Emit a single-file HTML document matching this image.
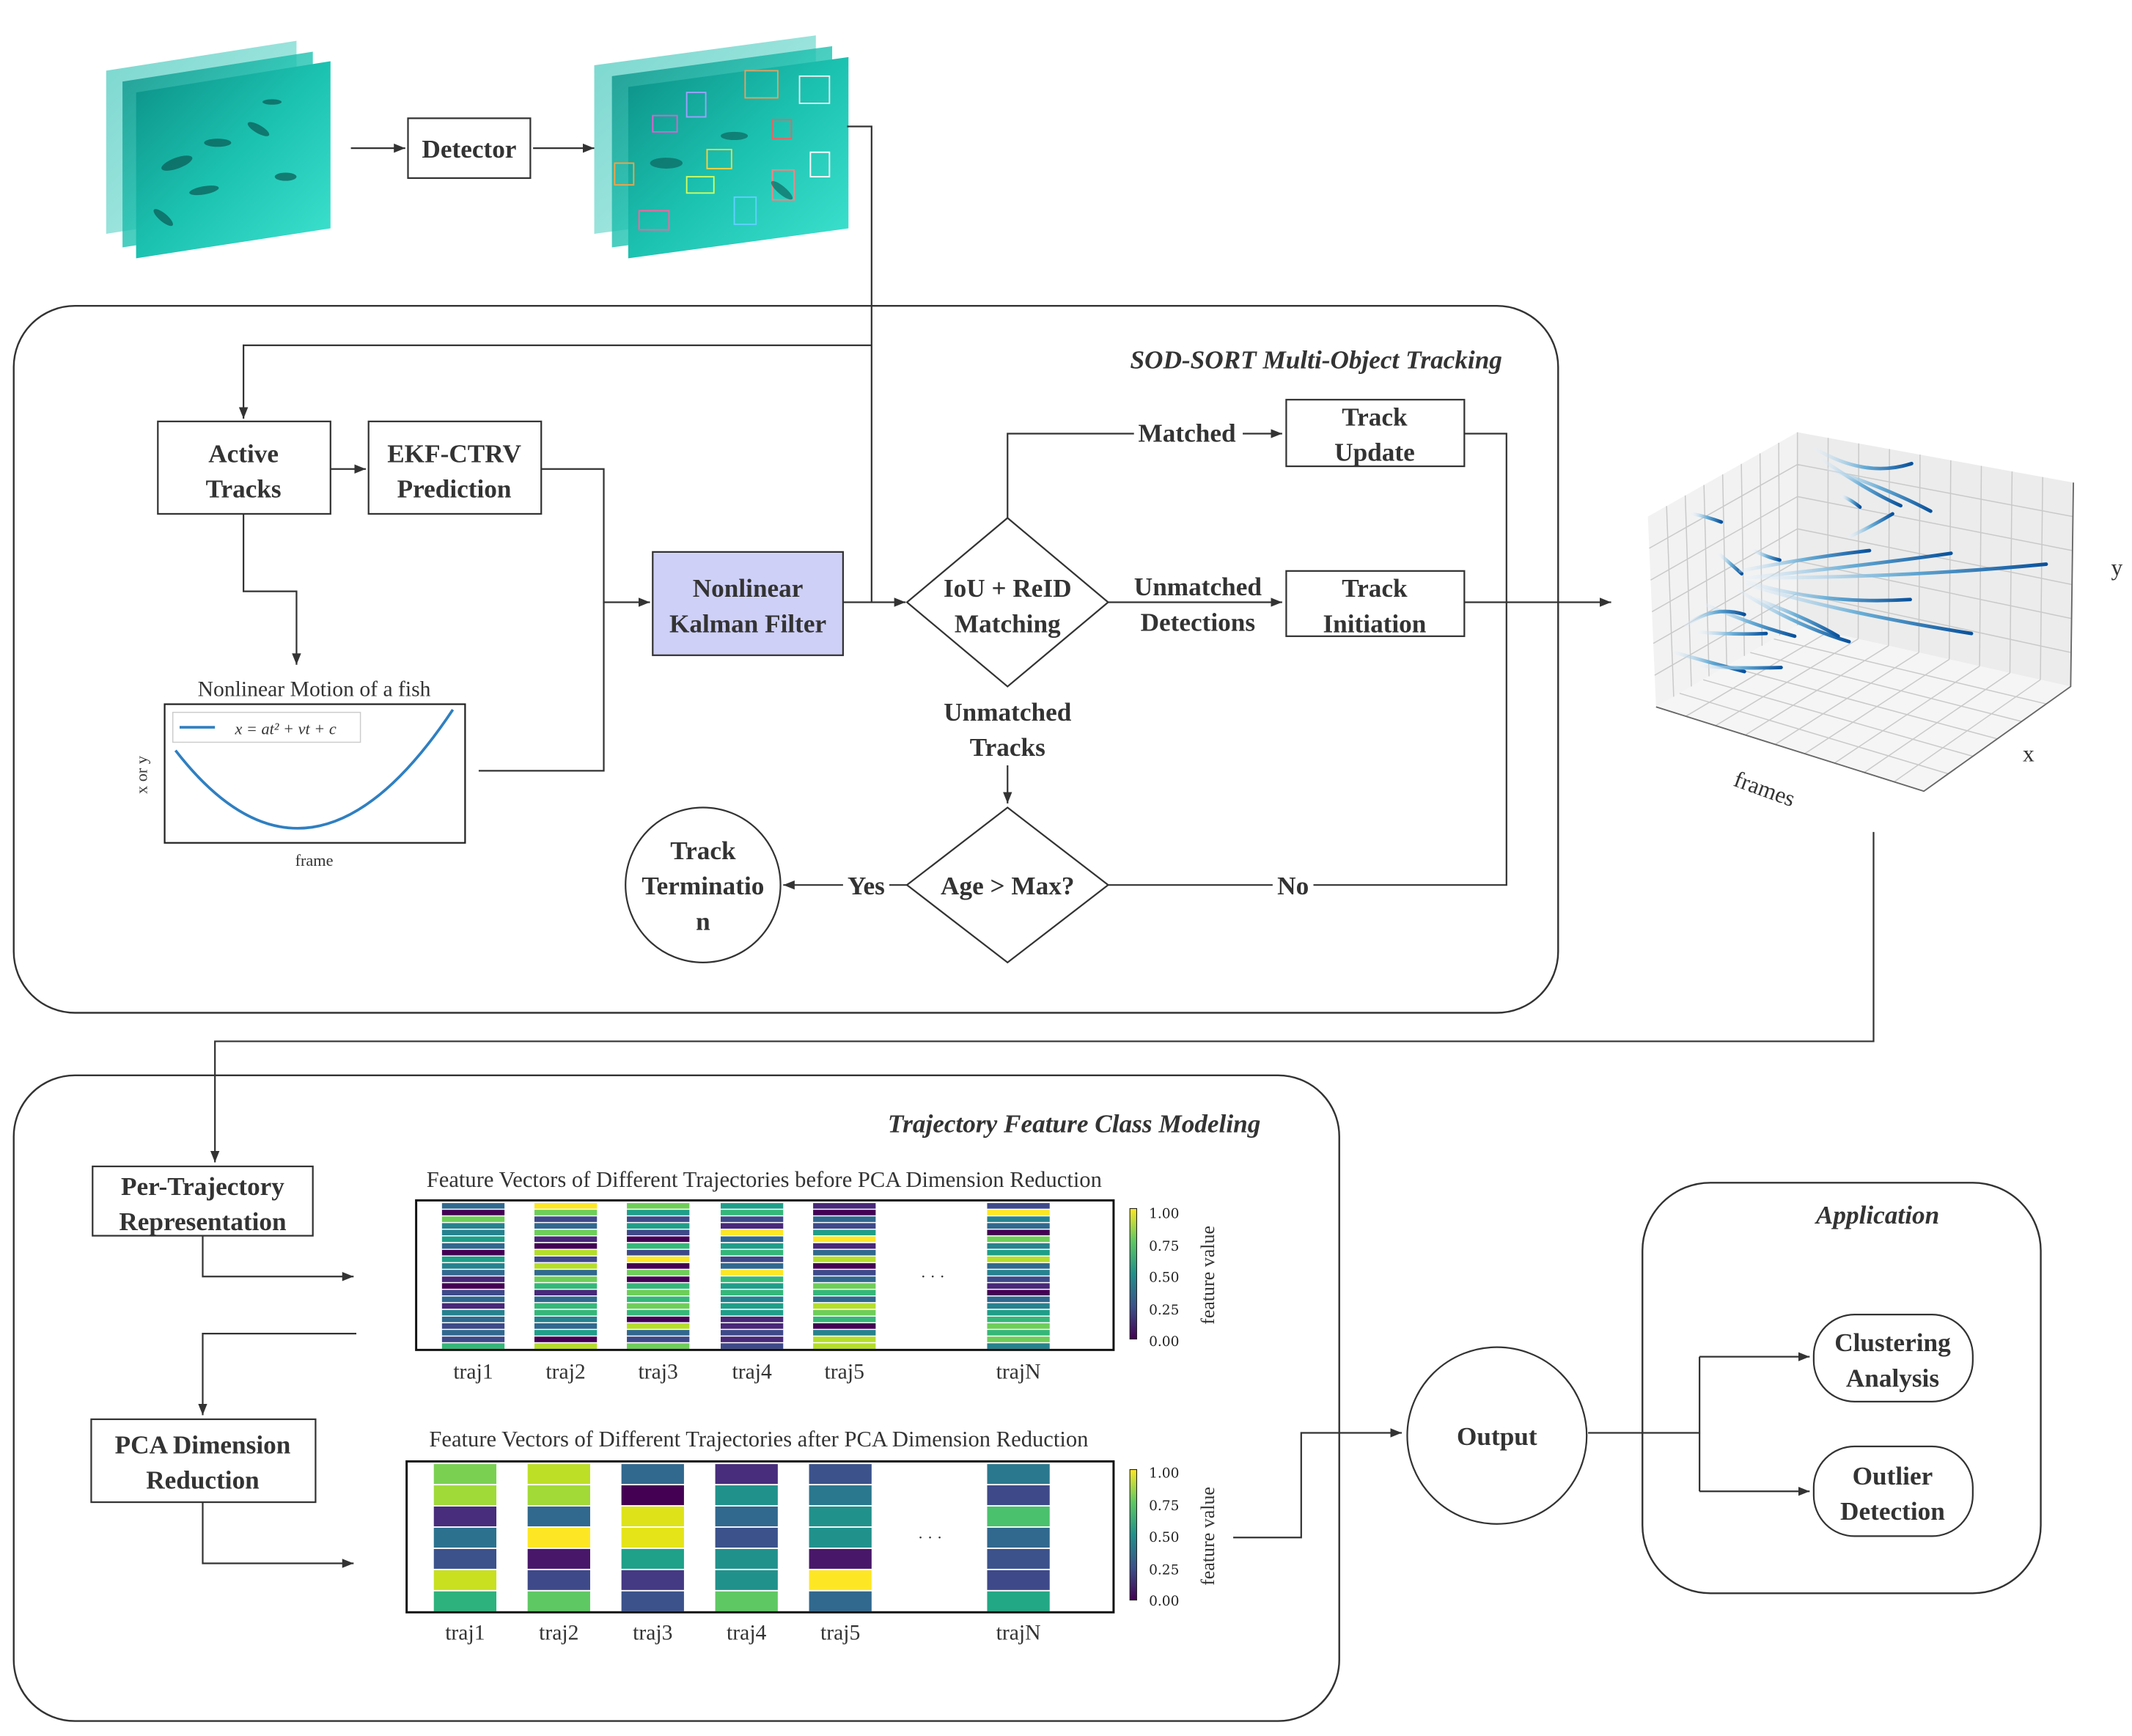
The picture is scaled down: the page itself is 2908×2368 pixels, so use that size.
<!DOCTYPE html>
<html><head><meta charset="utf-8"><style>
html,body{margin:0;padding:0;background:#fff}
svg{display:block}
.b{font-family:"Liberation Serif",serif;font-weight:bold;fill:#333;font-size:19px;text-anchor:middle}
.n{font-family:"Liberation Serif",serif;fill:#333;text-anchor:middle}
.s{font-family:"DejaVu Serif","Liberation Serif",serif;fill:#222}
.h1 rect{width:46px;height:4.1px}
.h2 rect{width:46px;height:14.6px}
.v0{fill:#440154}.v1{fill:#482878}.v2{fill:#3e4989}.v3{fill:#31688e}.v4{fill:#26828e}.v5{fill:#1f9e89}.v6{fill:#35b779}.v7{fill:#6ece58}.v8{fill:#b5de2b}.v9{fill:#fde725}
</style></head><body>
<svg width="2908" height="2368" viewBox="0 0 1568 1277" xmlns="http://www.w3.org/2000/svg">
<defs>
<marker id="ar" viewBox="0 0 10 10" refX="10" refY="5" markerWidth="7" markerHeight="7" orient="auto"><path d="M0,1 L10,5 L0,9 z" fill="#333"/></marker>
<linearGradient id="tl" x1="0" y1="0" x2="1" y2="1"><stop offset="0" stop-color="#0c8f86"/><stop offset="0.5" stop-color="#1cc2b0"/><stop offset="1" stop-color="#3fe3d0"/></linearGradient>
<linearGradient id="tl2" x1="0" y1="0" x2="1" y2="1"><stop offset="0" stop-color="#7ad7cf"/><stop offset="1" stop-color="#b7efe8"/></linearGradient>
<linearGradient id="bl" x1="0" y1="0" x2="1" y2="0"><stop offset="0" stop-color="#e6f0fa" stop-opacity="0.3"/><stop offset="0.5" stop-color="#6aaed6"/><stop offset="1" stop-color="#08519c"/></linearGradient>
<linearGradient id="cb" x1="0" y1="0" x2="0" y2="1"><stop offset="0" stop-color="#fde725"/><stop offset="0.25" stop-color="#5ec962"/><stop offset="0.5" stop-color="#21918c"/><stop offset="0.75" stop-color="#3b528b"/><stop offset="1" stop-color="#440154"/></linearGradient>
</defs>

<!-- heatmaps -->
<g class="h1">
<g transform="translate(325,0)">
<rect class="v3" y="885"/><rect class="v0" y="889.9"/><rect class="v7" y="894.8"/><rect class="v4" y="899.7"/><rect class="v4" y="904.6"/><rect class="v5" y="909.5"/><rect class="v3" y="914.5"/><rect class="v0" y="919.4"/><rect class="v5" y="924.3"/><rect class="v4" y="929.2"/><rect class="v3" y="934.1"/><rect class="v1" y="939"/><rect class="v0" y="943.9"/><rect class="v2" y="948.8"/><rect class="v3" y="953.7"/><rect class="v1" y="958.6"/><rect class="v4" y="963.6"/><rect class="v3" y="968.5"/><rect class="v2" y="973.4"/><rect class="v3" y="978.3"/><rect class="v2" y="983.2"/><rect class="v6" y="988.1"/>
</g>
<g transform="translate(393,0)">
<rect class="v9" y="885"/><rect class="v7" y="889.9"/><rect class="v2" y="894.8"/><rect class="v3" y="899.7"/><rect class="v7" y="904.6"/><rect class="v1" y="909.5"/><rect class="v0" y="914.5"/><rect class="v8" y="919.4"/><rect class="v2" y="924.3"/><rect class="v8" y="929.2"/><rect class="v3" y="934.1"/><rect class="v7" y="939"/><rect class="v6" y="943.9"/><rect class="v1" y="948.8"/><rect class="v3" y="953.7"/><rect class="v6" y="958.6"/><rect class="v6" y="963.6"/><rect class="v4" y="968.5"/><rect class="v3" y="973.4"/><rect class="v5" y="978.3"/><rect class="v0" y="983.2"/><rect class="v8" y="988.1"/>
</g>
<g transform="translate(461,0)">
<rect class="v7" y="885"/><rect class="v5" y="889.9"/><rect class="v2" y="894.8"/><rect class="v5" y="899.7"/><rect class="v2" y="904.6"/><rect class="v0" y="909.5"/><rect class="v6" y="914.5"/><rect class="v2" y="919.4"/><rect class="v9" y="924.3"/><rect class="v0" y="929.2"/><rect class="v7" y="934.1"/><rect class="v0" y="939"/><rect class="v6" y="943.9"/><rect class="v7" y="948.8"/><rect class="v6" y="953.7"/><rect class="v7" y="958.6"/><rect class="v6" y="963.6"/><rect class="v0" y="968.5"/><rect class="v8" y="973.4"/><rect class="v3" y="978.3"/><rect class="v2" y="983.2"/><rect class="v7" y="988.1"/>
</g>
<g transform="translate(530,0)">
<rect class="v5" y="885"/><rect class="v6" y="889.9"/><rect class="v2" y="894.8"/><rect class="v1" y="899.7"/><rect class="v9" y="904.6"/><rect class="v3" y="909.5"/><rect class="v5" y="914.5"/><rect class="v6" y="919.4"/><rect class="v2" y="924.3"/><rect class="v3" y="929.2"/><rect class="v9" y="934.1"/><rect class="v6" y="939"/><rect class="v5" y="943.9"/><rect class="v6" y="948.8"/><rect class="v4" y="953.7"/><rect class="v5" y="958.6"/><rect class="v5" y="963.6"/><rect class="v1" y="968.5"/><rect class="v1" y="973.4"/><rect class="v2" y="978.3"/><rect class="v1" y="983.2"/><rect class="v2" y="988.1"/>
</g>
<g transform="translate(598,0)">
<rect class="v1" y="885"/><rect class="v0" y="889.9"/><rect class="v3" y="894.8"/><rect class="v2" y="899.7"/><rect class="v5" y="904.6"/><rect class="v9" y="909.5"/><rect class="v1" y="914.5"/><rect class="v3" y="919.4"/><rect class="v8" y="924.3"/><rect class="v0" y="929.2"/><rect class="v2" y="934.1"/><rect class="v3" y="939"/><rect class="v7" y="943.9"/><rect class="v6" y="948.8"/><rect class="v3" y="953.7"/><rect class="v8" y="958.6"/><rect class="v7" y="963.6"/><rect class="v6" y="968.5"/><rect class="v0" y="973.4"/><rect class="v4" y="978.3"/><rect class="v8" y="983.2"/><rect class="v8" y="988.1"/>
</g>
<g transform="translate(726,0)">
<rect class="v2" y="885"/><rect class="v9" y="889.9"/><rect class="v4" y="894.8"/><rect class="v3" y="899.7"/><rect class="v0" y="904.6"/><rect class="v7" y="909.5"/><rect class="v4" y="914.5"/><rect class="v5" y="919.4"/><rect class="v8" y="924.3"/><rect class="v3" y="929.2"/><rect class="v4" y="934.1"/><rect class="v2" y="939"/><rect class="v1" y="943.9"/><rect class="v0" y="948.8"/><rect class="v3" y="953.7"/><rect class="v4" y="958.6"/><rect class="v5" y="963.6"/><rect class="v6" y="968.5"/><rect class="v7" y="973.4"/><rect class="v6" y="978.3"/><rect class="v7" y="983.2"/><rect class="v4" y="988.1"/>
</g>
</g>
<g class="h2">
<g transform="translate(319,0)"><rect y="1077" fill="#7ad151"/><rect y="1092.6" fill="#a0da39"/><rect y="1108.2" fill="#472d7b"/><rect y="1123.8" fill="#2c728e"/><rect y="1139.4" fill="#3b528b"/><rect y="1155" fill="#c8e020"/><rect y="1170.6" fill="#2db27d"/></g>
<g transform="translate(388,0)"><rect y="1077" fill="#bddf26"/><rect y="1092.6" fill="#a2da37"/><rect y="1108.2" fill="#31688e"/><rect y="1123.8" fill="#fde725"/><rect y="1139.4" fill="#481769"/><rect y="1155" fill="#3e4989"/><rect y="1170.6" fill="#5ec962"/></g>
<g transform="translate(457,0)"><rect y="1077" fill="#31688e"/><rect y="1092.6" fill="#440154"/><rect y="1108.2" fill="#dde318"/><rect y="1123.8" fill="#e5e419"/><rect y="1139.4" fill="#1fa088"/><rect y="1155" fill="#443983"/><rect y="1170.6" fill="#3b528b"/></g>
<g transform="translate(526,0)"><rect y="1077" fill="#472d7b"/><rect y="1092.6" fill="#21918c"/><rect y="1108.2" fill="#31688e"/><rect y="1123.8" fill="#3b528b"/><rect y="1139.4" fill="#21918c"/><rect y="1155" fill="#21918c"/><rect y="1170.6" fill="#5ec962"/></g>
<g transform="translate(595,0)"><rect y="1077" fill="#3b528b"/><rect y="1092.6" fill="#2a788e"/><rect y="1108.2" fill="#21918c"/><rect y="1123.8" fill="#21918c"/><rect y="1139.4" fill="#481769"/><rect y="1155" fill="#fde725"/><rect y="1170.6" fill="#31688e"/></g>
<g transform="translate(726,0)"><rect y="1077" fill="#2a788e"/><rect y="1092.6" fill="#3e4989"/><rect y="1108.2" fill="#4ac16d"/><rect y="1123.8" fill="#31688e"/><rect y="1139.4" fill="#3b528b"/><rect y="1155" fill="#3e4989"/><rect y="1170.6" fill="#22a884"/></g>
</g>
<rect x="831" y="889" width="5" height="96" fill="url(#cb)" stroke="#222" stroke-width="0.6"/>
<rect x="831" y="1081" width="5" height="96" fill="url(#cb)" stroke="#222" stroke-width="0.6"/>

<!-- 3D plot -->
<g>
<polygon points="1212,380 1322,318 1322,460 1218,520" fill="#f2f2f2"/>
<polygon points="1322,318 1525,355 1523,505 1322,460" fill="#ececec"/>
<polygon points="1322,460 1523,505 1415,582 1218,520" fill="#f5f5f5"/>
<path stroke="#c9c9c9" stroke-width="0.8" fill="none" d="
M1225.75,372.25L1231,512.5M1239.5,364.5L1244,505M1253.25,356.75L1257,497.5M1267,349L1270,490M1280.75,341.25L1283,482.5M1294.5,333.5L1296,475M1308.25,325.75L1309,467.5
M1213,403.3L1322,341.7M1214,426.7L1322,365.3M1215,450L1322,389M1216,473.3L1322,412.7M1217,496.7L1322,436.3
M1344.6,322.1L1344.3,465M1367.1,326.2L1366.7,470M1389.7,330.3L1389,475M1412.2,334.4L1411.3,480M1434.8,338.6L1433.7,485M1457.3,342.7L1456,490M1479.9,346.8L1478.3,495M1502.4,350.9L1500.7,500
M1322,341.7L1524.7,380M1322,365.3L1524.3,405M1322,389L1524,430M1322,412.7L1523.7,455M1322,436.3L1523.3,480
M1304.7,470L1505,517.8M1287.3,480L1487,530.7M1270,490L1469,543.5M1252.7,500L1451,556.3M1235.3,510L1433,569.2
M1344.3,465L1239.9,526.9M1366.7,470L1261.8,533.8M1389,475L1283.7,540.7M1411.3,480L1305.6,547.6M1433.7,485L1327.4,554.4M1456,490L1349.3,561.3M1478.3,495L1371.2,568.2M1500.7,500L1393.1,575.1
M1322,318L1322,460"/>
<path stroke="#666" stroke-width="1" fill="none" d="M1218,520L1415,582L1523,505L1525,355"/>
<g fill="none" stroke="url(#bl)" stroke-width="2.6" stroke-linecap="round">
<path d="M1335,330Q1372,352 1406,341"/><path d="M1340,338Q1375,362 1398,372"/><path d="M1345,345Q1390,360 1420,376"/><path d="M1355,365Q1362,368 1368,373"/><path d="M1360,395Q1375,388 1392,378"/><path d="M1245,378Q1255,380 1266,384"/><path d="M1290,405Q1300,410 1309,412"/><path d="M1265,408Q1272,414 1281,422"/><path d="M1280,420Q1330,410 1375,405"/><path d="M1285,425Q1380,415 1435,407"/><path d="M1290,425Q1400,425 1505,415"/><path d="M1285,428Q1340,445 1405,441"/><path d="M1285,430Q1350,450 1450,466"/><path d="M1280,435Q1320,460 1360,472"/><path d="M1255,445Q1290,460 1320,468"/><path d="M1240,460Q1260,445 1283,452"/><path d="M1250,465Q1275,467 1299,466"/><path d="M1232,480Q1260,488 1283,494"/><path d="M1252,490Q1280,492 1310,491"/><path d="M1290,440Q1330,455 1352,468"/>
</g>
</g>

<g fill="none" stroke="#333" stroke-width="1.2">
<polygon points="78,52 218,30 218,150 78,172" fill="url(#tl2)" stroke="none"/>
<polygon points="90,60 230,38 230,160 90,182" fill="url(#tl)" stroke="none" opacity="0.8"/>
<polygon points="100,68 243,45 243,168 100,190" fill="url(#tl)" stroke="none"/>
<g fill="#0a5a55" stroke="none" opacity="0.7">
<ellipse cx="130" cy="120" rx="12" ry="4" transform="rotate(-20 130 120)"/><ellipse cx="160" cy="105" rx="10" ry="3"/><ellipse cx="190" cy="95" rx="9" ry="3" transform="rotate(30 190 95)"/><ellipse cx="150" cy="140" rx="11" ry="3" transform="rotate(-10 150 140)"/><ellipse cx="210" cy="130" rx="8" ry="3"/><ellipse cx="120" cy="160" rx="9" ry="3" transform="rotate(40 120 160)"/><ellipse cx="200" cy="75" rx="7" ry="2"/>
</g>
<line x1="258" y1="109" x2="298" y2="109" marker-end="url(#ar)"/>
<rect x="300" y="87" width="90" height="44" fill="#fff"/>
<line x1="392" y1="109" x2="437" y2="109" marker-end="url(#ar)"/>
<polygon points="437,48 600,26 600,150 437,172" fill="url(#tl2)" stroke="none"/>
<polygon points="450,56 612,34 612,160 450,182" fill="url(#tl)" stroke="none" opacity="0.8"/>
<polygon points="462,64 624,42 624,168 462,190" fill="url(#tl)" stroke="none"/>
<g fill="none" stroke-width="1">
<rect x="548" y="52" width="24" height="20" stroke="#e8a060"/><rect x="588" y="56" width="22" height="20" stroke="#f0f0f0"/><rect x="480" y="85" width="18" height="12" stroke="#e060d0"/><rect x="505" y="68" width="14" height="18" stroke="#a0a0ff"/><rect x="568" y="88" width="14" height="14" stroke="#f06060"/><rect x="520" y="110" width="18" height="14" stroke="#ffd040"/><rect x="568" y="125" width="16" height="22" stroke="#ff8080"/><rect x="505" y="130" width="20" height="12" stroke="#d0ff60"/><rect x="470" y="155" width="22" height="14" stroke="#ff60a0"/><rect x="540" y="145" width="16" height="20" stroke="#60d0ff"/><rect x="596" y="112" width="14" height="18" stroke="#ffffff"/><rect x="452" y="120" width="14" height="16" stroke="#ffa040"/>
</g>
<g fill="#0a5a55" stroke="none" opacity="0.6"><ellipse cx="490" cy="120" rx="12" ry="4"/><ellipse cx="540" cy="100" rx="10" ry="3"/><ellipse cx="575" cy="140" rx="10" ry="3" transform="rotate(40 575 140)"/></g>

<path d="M623,93 H641 V443"/>
<path d="M641,254 H179 V308" marker-end="url(#ar)"/>

<rect x="10" y="225" width="1136" height="520" rx="45" stroke-width="1.3"/>
<rect x="116" y="310" width="127" height="68" fill="#fff"/>
<rect x="271" y="310" width="127" height="68" fill="#fff"/>
<line x1="243" y1="345" x2="269" y2="345" marker-end="url(#ar)"/>
<path d="M398,345 H444 V443 H478" marker-end="url(#ar)"/>
<path d="M179,378 V435 H218 V489" marker-end="url(#ar)"/>
<path d="M352,567 H444 V443"/>
<rect x="121" y="518" width="221" height="102" stroke="#222"/>
<path d="M129,552 Q228,680 333,522" stroke="#2f7fc1" stroke-width="2"/>
<rect x="127" y="524" width="138" height="22" stroke="#ccc" stroke-width="0.8"/>
<line x1="132" y1="535" x2="158" y2="535" stroke="#2f7fc1" stroke-width="2"/>
<rect x="480" y="406" width="140" height="76" fill="#cfd0f7"/>
<line x1="620" y1="443" x2="666" y2="443" marker-end="url(#ar)"/>
<polygon points="741,381 815,443 741,505 667,443" fill="#fff"/>
<path d="M741,381 V319 H943" marker-end="url(#ar)"/>
<rect x="946" y="294" width="131" height="49" fill="#fff"/>
<line x1="815" y1="443" x2="943" y2="443" marker-end="url(#ar)"/>
<rect x="946" y="420" width="131" height="48" fill="#fff"/>
<path d="M1077,319 H1108 V651 H815"/>
<line x1="1077" y1="443" x2="1185" y2="443" marker-end="url(#ar)"/>
<line x1="741" y1="563" x2="741" y2="591" marker-end="url(#ar)"/>
<polygon points="741,594 815,651 741,708 667,651" fill="#fff"/>
<line x1="667" y1="651" x2="576" y2="651" marker-end="url(#ar)"/>
<circle cx="517" cy="651" r="57" fill="#fff"/>

<path d="M1378,612 V766 H158 V855" marker-end="url(#ar)"/>

<rect x="10" y="791" width="975" height="475" rx="45" stroke-width="1.3"/>
<rect x="68" y="858" width="162" height="51" fill="#fff"/>
<path d="M149,909 V939 H260" marker-end="url(#ar)"/>
<path d="M262,981 H149 V1041" marker-end="url(#ar)"/>
<rect x="67" y="1044" width="165" height="61" fill="#fff"/>
<path d="M149,1105 V1150 H260" marker-end="url(#ar)"/>
<rect x="306" y="883" width="513" height="110" stroke="#111" stroke-width="1.6"/>
<rect x="299" y="1075" width="520" height="111" stroke="#111" stroke-width="1.6"/>
<path d="M907,1131 H957 V1054 H1031" marker-end="url(#ar)"/>
<ellipse cx="1101" cy="1056" rx="66" ry="65" fill="#fff"/>
<path d="M1168,1054 H1250"/>
<path d="M1250,998 V1097"/>
<line x1="1250" y1="998" x2="1331" y2="998" marker-end="url(#ar)"/>
<line x1="1250" y1="1097" x2="1331" y2="1097" marker-end="url(#ar)"/>
<rect x="1208" y="870" width="293" height="302" rx="50" stroke-width="1.3"/>
<rect x="1334" y="967" width="117" height="64" rx="30" fill="#fff"/>
<rect x="1334" y="1064" width="117" height="66" rx="30" fill="#fff"/>
</g>

<text class="b" x="345" y="116">Detector</text>
<text class="b" x="968" y="271" font-style="italic">SOD-SORT Multi-Object Tracking</text>
<text class="b" x="179" y="340">Active</text><text class="b" x="179" y="366">Tracks</text>
<text class="b" x="334" y="340">EKF-CTRV</text><text class="b" x="334" y="366">Prediction</text>
<text class="n" x="231" y="512" font-size="16">Nonlinear Motion of a fish</text>
<text class="n" x="210" y="540" font-size="12" font-style="italic">x = at² + vt + c</text>
<text class="n" x="231" y="637" font-size="12">frame</text>
<text class="n" x="108" y="570" font-size="12" transform="rotate(-90 108 570)">x or y</text>
<text class="b" x="550" y="439">Nonlinear</text><text class="b" x="550" y="465">Kalman Filter</text>
<text class="b" x="741" y="439">IoU + ReID</text><text class="b" x="741" y="465">Matching</text>
<rect x="834" y="306" width="80" height="24" fill="#fff"/>
<text class="b" x="873" y="325">Matched</text>
<text class="b" x="1011" y="313">Track</text><text class="b" x="1011" y="339">Update</text>
<text class="b" x="881" y="438">Unmatched</text><text class="b" x="881" y="464">Detections</text>
<text class="b" x="1011" y="439">Track</text><text class="b" x="1011" y="465">Initiation</text>
<text class="b" x="741" y="530">Unmatched</text><text class="b" x="741" y="556">Tracks</text>
<text class="b" x="741" y="658">Age &gt; Max?</text>
<rect x="620" y="640" width="34" height="22" fill="#fff"/>
<text class="b" x="637" y="658">Yes</text>
<rect x="936" y="640" width="30" height="22" fill="#fff"/>
<text class="b" x="951" y="658">No</text>
<text class="b" x="517" y="632">Track</text><text class="b" x="517" y="658">Terminatio</text><text class="b" x="517" y="684">n</text>
<text class="n" x="1557" y="423" font-size="17">y</text>
<text class="n" x="1492" y="560" font-size="17">x</text>
<text class="n" x="1298" y="586" font-size="17" transform="rotate(20 1298 580)">frames</text>
<text class="b" x="790" y="833" font-style="italic">Trajectory Feature Class Modeling</text>
<text class="b" x="149" y="879">Per-Trajectory</text><text class="b" x="149" y="905">Representation</text>
<text class="b" x="149" y="1069">PCA Dimension</text><text class="b" x="149" y="1095">Reduction</text>
<text class="n" x="562" y="873" font-size="16.5">Feature Vectors of Different Trajectories before PCA Dimension Reduction</text>
<text class="n" x="558" y="1064" font-size="16.5">Feature Vectors of Different Trajectories after PCA Dimension Reduction</text>
<g class="n" font-size="16">
<text x="348" y="1014">traj1</text><text x="416" y="1014">traj2</text><text x="484" y="1014">traj3</text><text x="553" y="1014">traj4</text><text x="621" y="1014">traj5</text><text x="749" y="1014">trajN</text>
<text x="342" y="1206">traj1</text><text x="411" y="1206">traj2</text><text x="480" y="1206">traj3</text><text x="549" y="1206">traj4</text><text x="618" y="1206">traj5</text><text x="749" y="1206">trajN</text>
</g>
<text class="n" x="686" y="943" font-size="12" fill="#888">· · ·</text>
<text class="n" x="684" y="1135" font-size="12" fill="#888">· · ·</text>
<g class="s" font-size="10">
<text x="845" y="896">1.00</text><text x="845" y="920">0.75</text><text x="845" y="943">0.50</text><text x="845" y="967">0.25</text><text x="845" y="990">0.00</text>
<text x="845" y="1087">1.00</text><text x="845" y="1111">0.75</text><text x="845" y="1134">0.50</text><text x="845" y="1158">0.25</text><text x="845" y="1181">0.00</text>
</g>
<text class="n" x="893" y="938" font-size="14" transform="rotate(-90 893 938)">feature value</text>
<text class="n" x="893" y="1130" font-size="14" transform="rotate(-90 893 1130)">feature value</text>
<text class="b" x="1101" y="1063">Output</text>
<text class="b" x="1381" y="900" font-style="italic">Application</text>
<text class="b" x="1392" y="994">Clustering</text><text class="b" x="1392" y="1020">Analysis</text>
<text class="b" x="1392" y="1092">Outlier</text><text class="b" x="1392" y="1118">Detection</text>
</svg>
</body></html>
